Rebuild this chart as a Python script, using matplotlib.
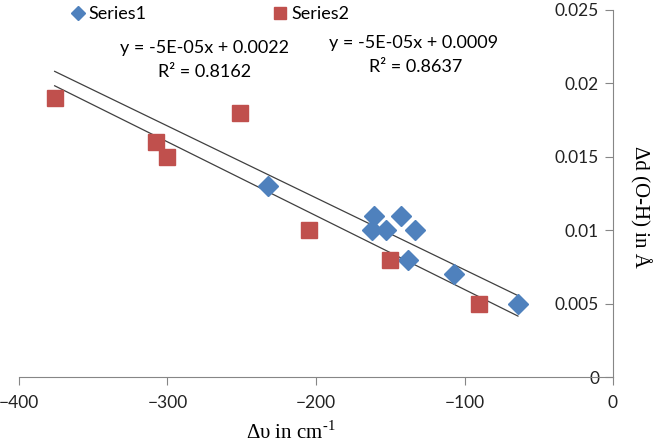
import matplotlib
matplotlib.use('Agg')
import matplotlib.pyplot as plt
import numpy as np

# Series1 (blue diamonds)
x1 = np.array([-232, -161, -143, -162, -153, -133, -138, -107, -64])
y1 = np.array([0.013, 0.011, 0.011, 0.010, 0.010, 0.010, 0.008, 0.007, 0.005])
# Series2 (red squares)
x2 = np.array([-376, -308, -300, -251, -205, -150, -90])
y2 = np.array([0.019, 0.016, 0.015, 0.018, 0.010, 0.008, 0.005])

eq1 = ['y = -5E-05x + 0.0022', 'R² = 0.8162']
eq2 = ['y = -5E-05x + 0.0009', 'R² = 0.8637']
xticks = [-400, -300, -200, -100, 0]
yticks = [0, 0.005, 0.01, 0.015, 0.02, 0.025]
ytlabels = ['0', '0.005', '0.01', '0.015', '0.02', '0.025']

sans = ['Lato', 'DejaVu Sans']
serif = ['Liberation Serif', 'DejaVu Serif']
plt.rcParams['font.family'] = sans
plt.rcParams['mathtext.fontset'] = 'custom'
plt.rcParams['mathtext.rm'] = 'Liberation Serif'

fig = plt.figure(figsize=(6.53, 4.44), dpi=100)
ax = fig.add_axes([19/653, 1-377/444, (613-19)/653, (377-10)/444])

blue = '#4F81BD'
red = '#C0504D'
ax.plot(x1, y1, 'D', color=blue, ms=10, mec=blue, label='Series1', zorder=3)
ax.plot(x2, y2, 's', color=red, ms=12, mec=red, label='Series2', zorder=3)

# linear trendlines over the full data range
xall = np.concatenate([x1, x2])
xl = np.array([xall.min(), xall.max()])
for xs, ys in [(x1, y1), (x2, y2)]:
    k, b = np.polyfit(xs, ys, 1)
    ax.plot(xl, k*xl + b, color='#404040', lw=0.9, zorder=2)

ax.set_xlim(-400, 0)
ax.set_ylim(0, 0.025)
ax.set_xticks(xticks)
ax.set_yticks(yticks)
ax.set_yticklabels(ytlabels)
for s in ['top', 'right']:
    ax.spines[s].set_visible(False)
ax.spines['left'].set_position(('data', 0))
for s in ['left', 'bottom']:
    ax.spines[s].set_color('#868686')
ax.tick_params(axis='both', colors='#868686', labelcolor='#222222',
               labelsize=12.5, length=6, direction='out')
ax.tick_params(axis='x', pad=7)
ax.tick_params(axis='y', pad=4)
ax.patch.set_alpha(0)

ax.text(204/653, 1-48/444, eq1[0], transform=fig.transFigure, ha='center', va='center', fontsize=13)
ax.text(205/653, 1-72/444, eq1[1], transform=fig.transFigure, ha='center', va='center', fontsize=13)
ax.text(414/653, 1-43/444, eq2[0], transform=fig.transFigure, ha='center', va='center', fontsize=13)
ax.text(416/653, 1-67/444, eq2[1], transform=fig.transFigure, ha='center', va='center', fontsize=13)

fig.legend(loc='center left', bbox_to_anchor=(69/653, 1-14/444), ncol=2, frameon=False,
           fontsize=13, markerscale=0.75, handletextpad=0.1, columnspacing=6.9,
           handlelength=1.0, borderpad=0, borderaxespad=0)

fig.text(291/653, 1-432/444, r'Δυ in cm$^{\text{-1}}$', ha='center', va='center',
         fontsize=15, family=serif)
fig.text(640/653, 1-207/444, 'Δd (O-H) in Å', ha='center', va='center', rotation=270,
         fontsize=15, family=serif)

fig.savefig('out.png', dpi=100)
